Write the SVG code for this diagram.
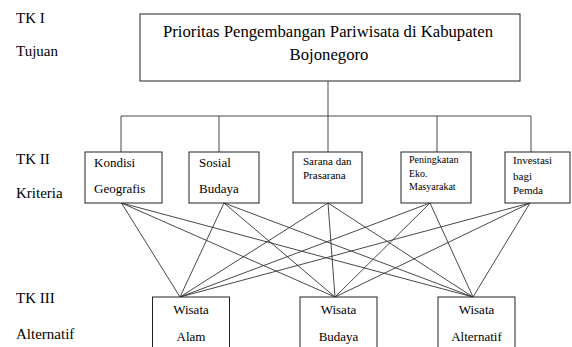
<svg xmlns="http://www.w3.org/2000/svg" width="572" height="347" viewBox="0 0 572 347" font-family="'Liberation Serif', 'DejaVu Serif', 'Times New Roman', Times, serif">
<style>
text{font-family:'Liberation Serif','DejaVu Serif','Times New Roman',Times,serif;fill:#000}
.lbl{font-size:15px}
.box{fill:#fff;stroke:#222;stroke-width:1}
.c13{font-size:13px}
.c11{font-size:11px}
.c10{font-size:10px}
.mid{text-anchor:middle}
.ln{stroke:#333;stroke-width:0.9;fill:none}
</style>
<rect width="572" height="347" fill="#fff"/>
<g id="levels">
<text class="lbl" x="16" y="23">TK I</text>
<text class="lbl" x="16" y="56">Tujuan</text>
<text class="lbl" x="16" y="164">TK II</text>
<text class="lbl" x="16" y="198">Kriteria</text>
<text class="lbl" x="16" y="303">TK III</text>
<text class="lbl" x="16" y="339">Alternatif</text>
</g>
<g id="connectors">
<path class="ln" d="M328 81V116M121 116H531M121 116V152M219 116V152M328 116V152M437 116V152M531 116V152"/>
<path class="ln" d="M121.5 203L180 297M121.5 203L335 297M121.5 203L473 297M224 203L180 297M224 203L335 297M224 203L473 297M328 203L180 297M328 203L335 297M328 203L473 297M430 203L180 297M430 203L335 297M430 203L473 297M530 203L180 297M530 203L335 297M530 203L473 297"/>
</g>
<g id="goal">
<rect class="box" x="140" y="14" width="380" height="67"/>
<text class="mid" x="328" y="37" font-size="16.7">Prioritas Pengembangan Pariwisata di Kabupaten</text>
<text class="mid" x="329" y="60" font-size="16.7">Bojonegoro</text>
</g>
<g id="k1">
<rect class="box" x="85" y="152" width="77" height="51"/>
<text class="c13" x="94" y="167">Kondisi</text>
<text class="c13" x="94" y="193">Geografis</text>
</g>
<g id="k2">
<rect class="box" x="189" y="152" width="70" height="51"/>
<text class="c13" x="199" y="167">Sosial</text>
<text class="c13" x="199" y="193">Budaya</text>
</g>
<g id="k3">
<rect class="box" x="293" y="152" width="69" height="51"/>
<text class="c11" x="303" y="165">Sarana dan</text>
<text class="c11" x="303" y="179">Prasarana</text>
</g>
<g id="k4">
<rect class="box" x="401" y="152" width="70" height="51"/>
<text class="c10" x="409" y="163">Peningkatan</text>
<text class="c10" x="409" y="177">Eko.</text>
<text class="c10" x="409" y="190">Masyarakat</text>
</g>
<g id="k5">
<rect class="box" x="505" y="152" width="65" height="51"/>
<text class="c11" x="513" y="164">Investasi</text>
<text class="c11" x="513" y="180">bagi</text>
<text class="c11" x="513" y="194">Pemda</text>
</g>
<g id="a1">
<rect class="box" x="152.5" y="297" width="77" height="60"/>
<text class="c13 mid" x="191" y="314">Wisata</text>
<text class="c13 mid" x="191" y="341">Alam</text>
</g>
<g id="a2">
<rect class="box" x="300" y="297" width="77" height="60"/>
<text class="c13 mid" x="338.5" y="314">Wisata</text>
<text class="c13 mid" x="338.5" y="341">Budaya</text>
</g>
<g id="a3">
<rect class="box" x="438" y="297" width="77" height="60"/>
<text class="c13 mid" x="476.5" y="314">Wisata</text>
<text class="c13 mid" x="476.5" y="341">Alternatif</text>
</g>
</svg>
